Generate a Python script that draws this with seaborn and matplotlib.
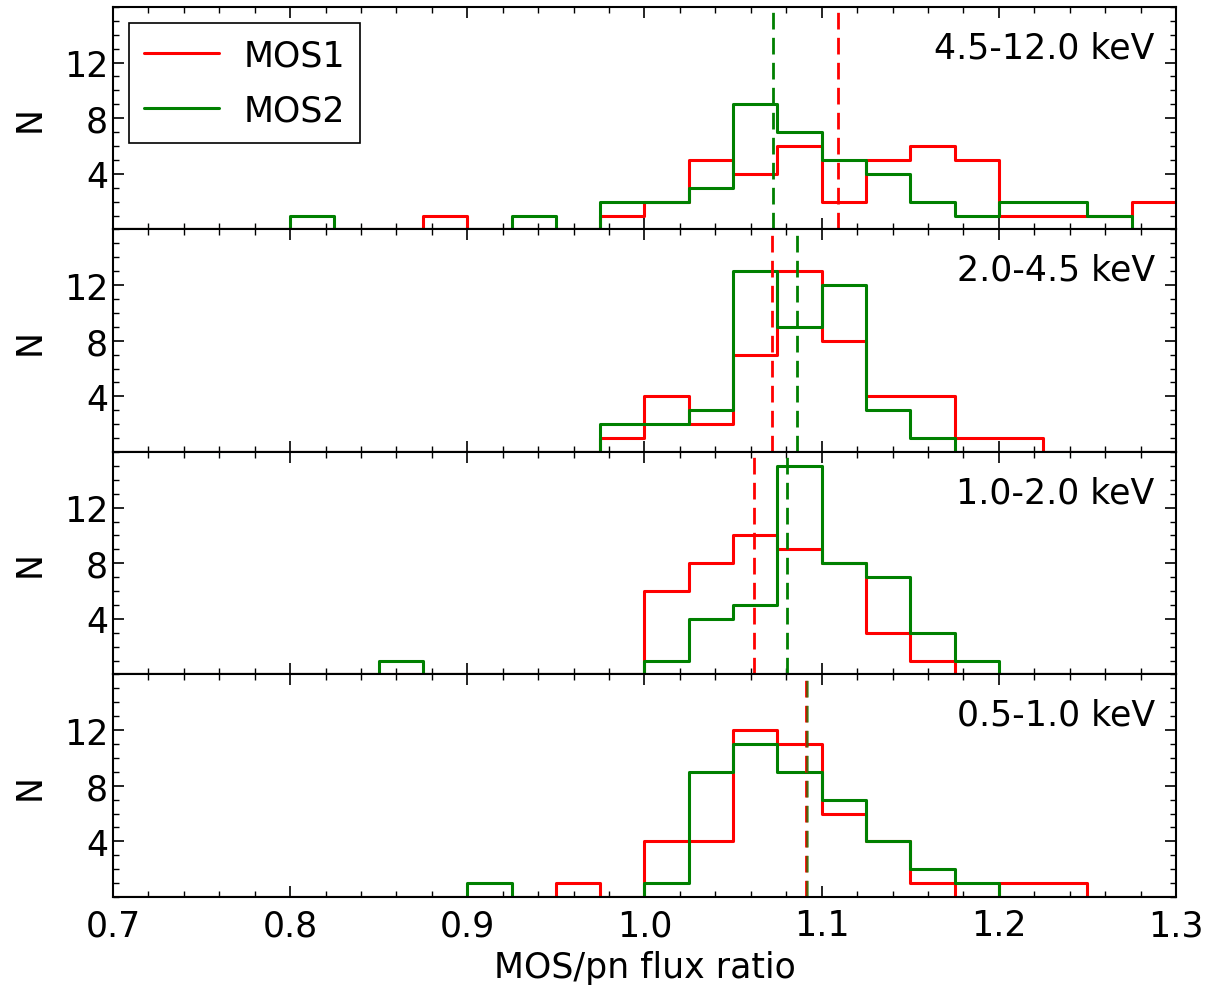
import numpy as np
import pandas as pd
import matplotlib
matplotlib.use('Agg')
import matplotlib.pyplot as plt
from matplotlib.lines import Line2D
from matplotlib.ticker import MultipleLocator, FormatStrFormatter
import seaborn as sns

# ---------------------------------------------------------------
#  binned counts, 24 bins of 0.025 between 0.7 and 1.3
# ---------------------------------------------------------------
bin_edges = [round(0.7 + 0.025 * k, 3) for k in range(25)]
bands = ["4.5-12.0 keV", "2.0-4.5 keV", "1.0-2.0 keV", "0.5-1.0 keV"]

mos1_hard = [0, 0, 0, 0, 0, 0, 0, 1, 0, 0, 0, 1, 2, 5, 4, 6, 2, 5, 6, 5, 1, 1, 1, 2]
mos2_hard = [0, 0, 0, 0, 1, 0, 0, 0, 0, 1, 0, 2, 2, 3, 9, 7, 5, 4, 2, 1, 2, 2, 1, 0]

mos1_med = [0, 0, 0, 0, 0, 0, 0, 0, 0, 0, 0, 1, 4, 2, 7, 13, 8, 4, 4, 1, 1, 0, 0, 0]
mos2_med = [0, 0, 0, 0, 0, 0, 0, 0, 0, 0, 0, 2, 2, 3, 13, 9, 12, 3, 1, 0, 0, 0, 0, 0]

mos1_soft = [0, 0, 0, 0, 0, 0, 0, 0, 0, 0, 0, 0, 6, 8, 10, 9, 8, 3, 1, 0, 0, 0, 0, 0]
mos2_soft = [0, 0, 0, 0, 0, 0, 1, 0, 0, 0, 0, 0, 1, 4, 5, 15, 8, 7, 3, 1, 0, 0, 0, 0]

mos1_vsoft = [0, 0, 0, 0, 0, 0, 0, 0, 0, 0, 1, 0, 4, 4, 12, 11, 6, 4, 1, 0, 1, 1, 0, 0]
mos2_vsoft = [0, 0, 0, 0, 0, 0, 0, 0, 1, 0, 0, 0, 1, 9, 11, 9, 7, 4, 2, 1, 0, 0, 0, 0]

# mean ratios (dashed lines)
mos1_mean = [1.109, 1.072, 1.062, 1.091]
mos2_mean = [1.0725, 1.086, 1.0805, 1.0915]

mos1_all = [mos1_hard, mos1_med, mos1_soft, mos1_vsoft]
mos2_all = [mos2_hard, mos2_med, mos2_soft, mos2_vsoft]

edges = np.array(bin_edges)
centers = (edges[:-1] + edges[1:]) / 2.0

FS = 25

sns.set_style("ticks")
plt.rcParams.update({
    'font.family': ['DejaVu Sans'],
    'text.color': 'black', 'axes.labelcolor': 'black',
    'xtick.direction': 'in', 'ytick.direction': 'in',
    'xtick.top': True, 'ytick.right': True,
    'xtick.major.size': 8, 'ytick.major.size': 8,
    'xtick.minor.size': 4, 'ytick.minor.size': 4,
    'xtick.major.width': 1.2, 'ytick.major.width': 1.2,
    'xtick.minor.width': 1.0, 'ytick.minor.width': 1.0,
    'xtick.major.pad': 8,
    'axes.linewidth': 1.5,
    'axes.edgecolor': 'black',
    'xtick.color': 'black', 'ytick.color': 'black',
    'xtick.labelsize': FS, 'ytick.labelsize': FS,
})

fig, axes = plt.subplots(4, 1, sharex=True, figsize=(12.07, 9.95), dpi=100)
fig.subplots_adjust(left=0.0936, right=0.9743, top=0.992, bottom=0.0975, hspace=0)

for i, ax in enumerate(axes):
    df = pd.DataFrame({"ratio": centers, "mos1": mos1_all[i], "mos2": mos2_all[i]})
    sns.histplot(data=df, x="ratio", weights="mos1", bins=bin_edges, element="step",
                 fill=False, color="red", lw=2.2, ax=ax)
    sns.histplot(data=df, x="ratio", weights="mos2", bins=bin_edges, element="step",
                 fill=False, color="green", lw=2.2, ax=ax)
    ax.axvline(mos1_mean[i], color="red", lw=2, ls=(0, (6, 3)))
    ax.axvline(mos2_mean[i], color="green", lw=2, ls=(0, (6, 3)), alpha=0.6 if i == 3 else 1)

    ax.set_xlim(0.7, 1.3)
    ax.set_ylim(0, 16)
    ax.set_yticks([4, 8, 12])
    ax.xaxis.set_major_locator(MultipleLocator(0.1))
    ax.xaxis.set_minor_locator(MultipleLocator(0.02))
    ax.yaxis.set_minor_locator(MultipleLocator(1))
    ax.tick_params(which='both', top=True, right=True, direction='in')
    ax.set_ylabel("N", fontsize=FS)
    ax.yaxis.set_label_coords(-0.062, 0.5)
    ax.text(0.98, 0.82, bands[i], transform=ax.transAxes, ha='right', va='center',
            fontsize=FS)

axes[-1].set_xlabel("MOS/pn flux ratio", fontsize=FS, labelpad=6)
axes[-1].xaxis.set_major_formatter(FormatStrFormatter('%.1f'))

handles = [Line2D([], [], color="red", lw=2.2), Line2D([], [], color="green", lw=2.2)]
leg = axes[0].legend(handles, ["MOS1", "MOS2"], loc="upper left", fontsize=FS,
                     handlelength=2.15, handletextpad=0.7, fancybox=False, framealpha=1,
                     borderaxespad=0.45, borderpad=0.45, labelspacing=0.6)
leg.get_frame().set_edgecolor("black")
leg.get_frame().set_linewidth(1.2)

plt.savefig("out.png", dpi=100)
